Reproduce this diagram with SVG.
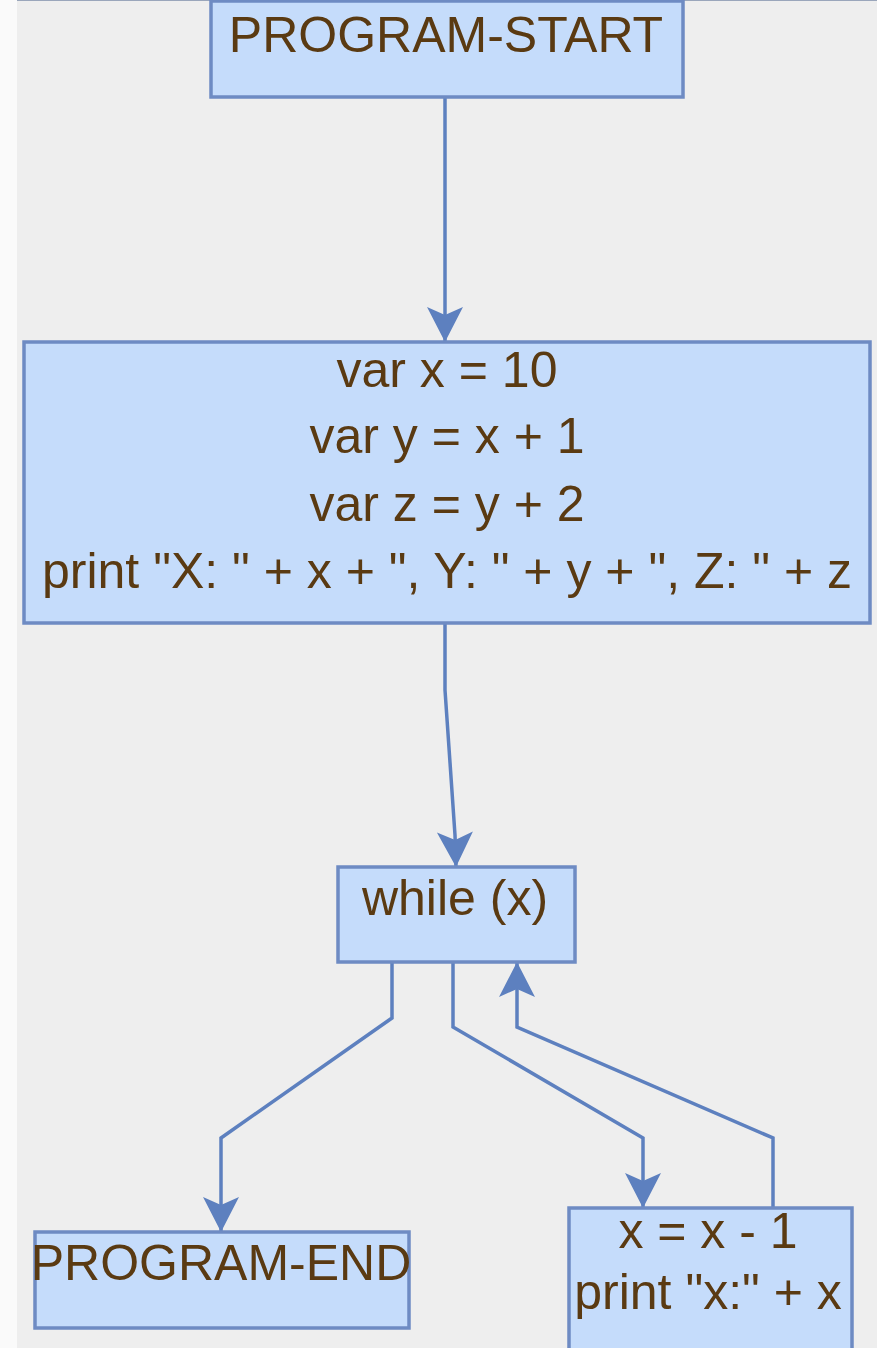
<svg xmlns="http://www.w3.org/2000/svg" width="877" height="1348" viewBox="0 0 877 1348">
  <style>
    .box { fill: #c5dcfb; stroke: #6e8bc3; stroke-width: 3.5; }
    .lbl { font-family: "Liberation Sans", Arial, sans-serif; font-size: 50px; fill: #5a3a12; text-anchor: middle; }
    .edge { fill: none; stroke: #5d80bf; stroke-width: 3.5; stroke-linejoin: miter; }
  </style>
  <defs>
    <marker id="arr" markerUnits="userSpaceOnUse" markerWidth="40" markerHeight="40" viewBox="-36 -20 40 40" refX="0" refY="0" orient="auto">
      <path d="M0,0 L-35,-18 L-27,0 L-35,18 Z" fill="#5d80bf"/>
    </marker>
  </defs>
  <rect x="0" y="0" width="877" height="1348" fill="#eeeeee"/>
  <rect x="0" y="0" width="17" height="1348" fill="#fafafa"/>
  <line x1="17" y1="0.5" x2="877" y2="0.5" stroke="#9aa6bb" stroke-width="1"/>

  <g id="connectors">
    <path class="edge" d="M445,97 L445,342" marker-end="url(#arr)"/>
    <path class="edge" d="M445,623 L445,690 L455,835 L456,867" marker-end="url(#arr)"/>
    <path class="edge" d="M392,962 L392,1018 L221,1138 L221,1232" marker-end="url(#arr)"/>
    <path class="edge" d="M453,962 L453,1027 L643,1138 L643,1208" marker-end="url(#arr)"/>
    <path class="edge" d="M773,1208 L773,1138 L517,1027 L517,962" marker-end="url(#arr)"/>
  </g>

  <g id="program-start">
    <rect class="box" x="211" y="1" width="472" height="96"/>
    <text class="lbl" x="446" y="52">PROGRAM-START</text>
  </g>

  <g id="init-block">
    <rect class="box" x="24" y="342" width="846" height="281"/>
    <text class="lbl" x="447" y="387">var x = 10</text>
    <text class="lbl" x="447" y="453">var y = x + 1</text>
    <text class="lbl" x="447" y="521">var z = y + 2</text>
    <text class="lbl" x="447" y="588">print "X: " + x + ", Y: " + y + ", Z: " + z</text>
  </g>

  <g id="while-x">
    <rect class="box" x="338" y="867" width="237" height="95"/>
    <text class="lbl" x="455" y="915">while (x)</text>
  </g>

  <g id="program-end">
    <rect class="box" x="35" y="1232" width="374" height="96"/>
    <text class="lbl" x="221" y="1280">PROGRAM-END</text>
  </g>

  <g id="loop-body">
    <rect class="box" x="569" y="1208" width="283" height="145"/>
    <text class="lbl" x="708" y="1248">x = x - 1</text>
    <text class="lbl" x="708" y="1309">print "x:" + x</text>
  </g>
</svg>
